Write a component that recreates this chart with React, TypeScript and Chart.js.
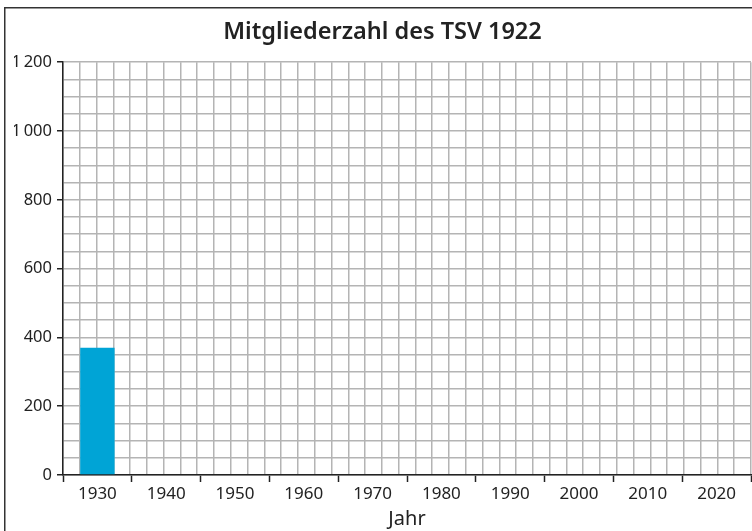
import React, { useEffect, useRef } from 'react';
import { Chart, registerables } from 'chart.js';
Chart.register(...registerables);

const chartTitle = 'Mitgliederzahl des TSV 1922';
const xAxisTitle = 'Jahr';
const years = ['1930', '1940', '1950', '1960', '1970', '1980', '1990', '2000', '2010', '2020'];
const members: (number | null)[] = [370, null, null, null, null, null, null, null, null, null];
const yMin = 0;
const yMax = 1200;
const yMinorStep = 50;
const yMajorStep = 200;
const minorPerCategory = 4;

const FAMILY = '"Noto Sans", sans-serif';
const TEXT = '#222222';
const GRID = '#b4b4b4';
const BAR = '#00a4d6';

const fmt = (v: number) => {
  const s = String(Math.round(v));
  return s.replace(/\B(?=(\d{3})+(?!\d))/g, '\u2009');
};

export default function App() {
  const ref = useRef<HTMLCanvasElement>(null);
  useEffect(() => {
    const frame = {
      id: 'frame',
      afterDraw(chart: any) {
        const c = chart.ctx;
        c.save();
        c.strokeStyle = '#333333';
        c.lineWidth = 1.5;
        c.strokeRect(4.75, 7.75, chart.width + 20, chart.height + 20);
        c.restore();
      },
    };
    const chart = new Chart(ref.current as HTMLCanvasElement, {
      type: 'bar',
      data: {
        labels: years,
        datasets: [
          {
            data: members,
            backgroundColor: BAR,
            categoryPercentage: 0.5,
            barPercentage: 1,
            xAxisID: 'x',
            yAxisID: 'y',
          },
        ],
      },
      options: {
        animation: false,
        responsive: false,
        maintainAspectRatio: false,
        layout: { padding: { left: 14, right: 1, top: 0, bottom: 0 } },
        plugins: {
          legend: { display: false },
          tooltip: { enabled: false },
          title: {
            display: true,
            text: chartTitle,
            color: TEXT,
            font: { family: FAMILY, size: 23.5, weight: '600' },
            padding: { top: 18, bottom: 16 },
          },
        },
        scales: {
          x: {
            type: 'category',
            position: 'bottom',
            offset: true,
            grid: {
              offset: true,
              drawOnChartArea: false,
              color: GRID,
              tickColor: TEXT,
              tickLength: 7,
              tickWidth: 1.5,
            },
            border: { color: TEXT, width: 1.5 },
            ticks: {
              color: TEXT,
              font: { family: FAMILY, size: 17 },
              padding: 2,
              maxRotation: 0,
              autoSkip: false,
            },
            title: {
              display: true,
              text: xAxisTitle,
              color: TEXT,
              font: { family: FAMILY, size: 20 },
              padding: { top: 0, bottom: 0 },
            },
            afterFit: (s: any) => {
              s.height = 56;
            },
          },
          xg: {
            type: 'linear',
            position: 'bottom',
            min: 0,
            max: years.length * minorPerCategory,
            ticks: { display: false, stepSize: 1, autoSkip: false },
            grid: { color: GRID, lineWidth: 1.5, drawTicks: false },
            border: { display: false },
            afterFit: (s: any) => {
              s.height = 0;
            },
          },
          y: {
            type: 'linear',
            min: yMin,
            max: yMax,
            ticks: {
              stepSize: yMinorStep,
              autoSkip: false,
              color: TEXT,
              font: { family: FAMILY, size: 16.5 },
              padding: 5,
              callback: (v: any) => (Number(v) % yMajorStep === 0 ? fmt(Number(v)) : ''),
            },
            grid: {
              color: GRID,
              lineWidth: 1.5,
              tickLength: 6,
              tickWidth: 1.5,
              tickColor: (ctx: any) =>
                ctx.tick && ctx.tick.value % yMajorStep === 0 ? TEXT : 'rgba(0,0,0,0)',
            },
            border: { color: TEXT, width: 1.5 },
            afterFit: (s: any) => {
              s.width = 49;
            },
          },
        },
      } as any,
      plugins: [frame],
    });
    return () => chart.destroy();
  }, []);
  return (
    <div style={{ position: 'fixed', left: 0, top: 0, width: 752, height: 531 }}>
      <canvas ref={ref} width={752} height={531} style={{ display: 'block', width: 752, height: 531 }} />
    </div>
  );
}
